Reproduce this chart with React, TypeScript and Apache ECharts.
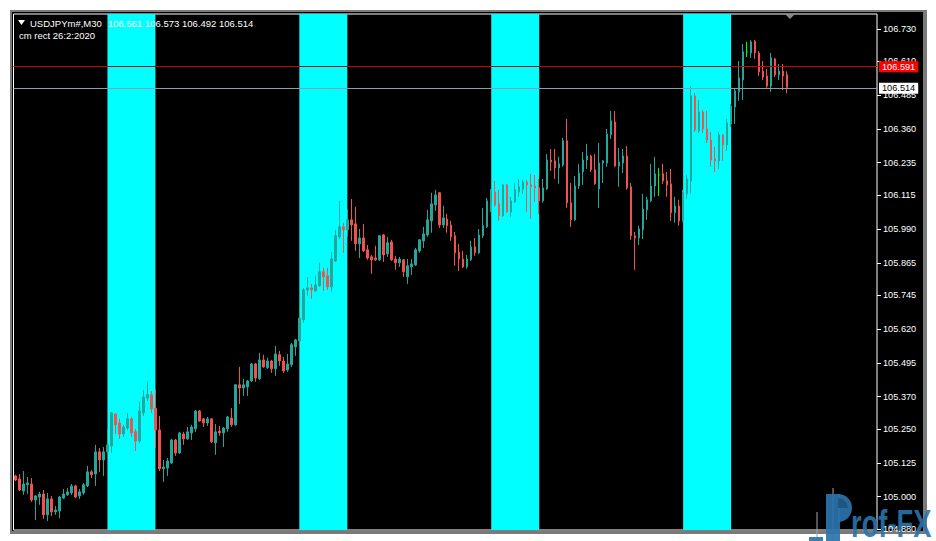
import React, { useEffect, useRef } from "react";
import * as echarts from "echarts";

const symbolName = "USDJPYm#,M30";
const indicatorText = "cm rect 26:2:2020";

const opens = [
  105.077, 105.066, 105.021, 105.044, 105.047, 104.988, 104.999, 105.010, 104.933, 104.992,
  104.944, 104.947, 104.995, 105.007, 105.014, 105.040, 105.003, 105.014, 105.040, 105.092,
  105.084, 105.166, 105.136, 105.166, 105.188, 105.306, 105.273, 105.232, 105.254, 105.288,
  105.240, 105.206, 105.310, 105.365, 105.377, 105.328, 105.247, 105.103, 105.106, 105.125,
  105.210, 105.162, 105.232, 105.214, 105.236, 105.251, 105.317, 105.288, 105.273, 105.288,
  105.199, 105.243, 105.236, 105.251, 105.291, 105.266, 105.414, 105.402, 105.406, 105.428,
  105.491, 105.436, 105.506, 105.477, 105.502, 105.473, 105.525, 105.502, 105.469, 105.488,
  105.554, 105.576, 105.654, 105.765, 105.772, 105.761, 105.780, 105.832, 105.817, 105.776,
  105.872, 105.961, 105.998, 105.987, 106.024, 106.009, 105.935, 105.957, 105.913, 105.887,
  105.883, 105.876, 105.968, 105.898, 105.942, 105.879, 105.865, 105.876, 105.813, 105.850,
  105.857, 105.909, 105.946, 105.968, 106.020, 106.079, 106.124, 106.005, 106.027, 106.005,
  105.965, 105.905, 105.879, 105.850, 105.876, 105.924, 105.902, 105.965, 105.998, 106.090,
  106.127, 106.083, 106.039, 106.153, 106.053, 106.090, 106.127, 106.138, 106.164, 106.153,
  106.149, 106.142, 106.094, 106.138, 106.245, 106.242, 106.216, 106.227, 106.316, 106.087,
  106.024, 106.149, 106.201, 106.245, 106.260, 106.209, 106.138, 106.234, 106.234, 106.338,
  106.386, 106.223, 106.234, 106.260, 106.146, 105.965, 105.957, 105.987, 106.061, 106.094,
  106.149, 106.190, 106.194, 106.168, 106.157, 106.050, 106.075, 106.020, 106.120, 106.168,
  106.482, 106.353, 106.423, 106.360, 106.319, 106.249, 106.242, 106.338, 106.301, 106.379,
  106.441, 106.497, 106.541, 106.645, 106.641, 106.685, 106.641, 106.574, 106.556, 106.519,
  106.619, 106.560, 106.574, 106.561,
];

const closes = [
  105.062, 105.025, 105.047, 105.051, 104.988, 105.003, 105.010, 104.933, 104.992, 104.944,
  104.951, 104.999, 105.010, 105.018, 105.040, 104.999, 105.018, 105.044, 105.092, 105.081,
  105.166, 105.136, 105.166, 105.192, 105.310, 105.266, 105.232, 105.258, 105.288, 105.236,
  105.206, 105.317, 105.369, 105.377, 105.325, 105.247, 105.103, 105.110, 105.132, 105.210,
  105.162, 105.236, 105.214, 105.240, 105.258, 105.317, 105.280, 105.273, 105.288, 105.203,
  105.240, 105.236, 105.254, 105.295, 105.266, 105.414, 105.402, 105.414, 105.428, 105.491,
  105.439, 105.506, 105.480, 105.502, 105.473, 105.528, 105.502, 105.465, 105.491, 105.562,
  105.580, 105.661, 105.765, 105.772, 105.765, 105.783, 105.832, 105.813, 105.776, 105.879,
  105.965, 105.998, 105.987, 106.024, 106.005, 105.935, 105.957, 105.909, 105.883, 105.876,
  105.876, 105.965, 105.894, 105.939, 105.876, 105.865, 105.879, 105.832, 105.854, 105.861,
  105.913, 105.950, 105.972, 106.024, 106.083, 106.116, 106.005, 106.031, 106.002, 105.961,
  105.902, 105.879, 105.850, 105.879, 105.924, 105.902, 105.968, 106.002, 106.094, 106.131,
  106.079, 106.039, 106.153, 106.053, 106.094, 106.135, 106.146, 106.164, 106.153, 106.146,
  106.142, 106.094, 106.142, 106.245, 106.238, 106.216, 106.231, 106.316, 106.087, 106.024,
  106.149, 106.197, 106.245, 106.260, 106.209, 106.157, 106.234, 106.242, 106.341, 106.390,
  106.223, 106.238, 106.260, 106.142, 105.965, 105.957, 105.990, 106.064, 106.098, 106.149,
  106.194, 106.190, 106.168, 106.153, 106.050, 106.075, 106.020, 106.124, 106.175, 106.482,
  106.356, 106.423, 106.360, 106.319, 106.245, 106.242, 106.338, 106.301, 106.382, 106.445,
  106.501, 106.549, 106.645, 106.645, 106.682, 106.641, 106.571, 106.552, 106.519, 106.623,
  106.560, 106.574, 106.556, 106.514,
];

const lows = [
  105.058, 105.021, 105.007, 105.010, 104.981, 104.914, 104.970, 104.918, 104.910, 104.929,
  104.933, 104.921, 104.992, 105.003, 105.007, 104.995, 104.992, 105.007, 105.036, 105.069,
  105.040, 105.092, 105.077, 105.162, 105.162, 105.232, 105.214, 105.221, 105.247, 105.221,
  105.169, 105.199, 105.299, 105.354, 105.310, 105.180, 105.095, 105.055, 105.077, 105.121,
  105.151, 105.158, 105.192, 105.210, 105.210, 105.240, 105.277, 105.258, 105.262, 105.199,
  105.155, 105.225, 105.184, 105.240, 105.258, 105.262, 105.343, 105.373, 105.373, 105.425,
  105.425, 105.432, 105.477, 105.473, 105.458, 105.447, 105.484, 105.458, 105.462, 105.480,
  105.521, 105.558, 105.643, 105.743, 105.732, 105.758, 105.776, 105.761, 105.765, 105.758,
  105.868, 105.953, 105.902, 105.961, 105.946, 105.909, 105.883, 105.905, 105.876, 105.824,
  105.872, 105.872, 105.868, 105.887, 105.872, 105.839, 105.850, 105.813, 105.787, 105.820,
  105.854, 105.902, 105.920, 105.961, 105.976, 106.057, 105.994, 105.994, 105.976, 105.946,
  105.854, 105.835, 105.846, 105.843, 105.872, 105.891, 105.898, 105.957, 105.994, 106.053,
  106.072, 106.020, 106.035, 106.050, 106.035, 106.087, 106.109, 106.120, 106.053, 106.027,
  106.090, 106.046, 106.087, 106.135, 106.205, 106.175, 106.157, 106.220, 106.068, 105.998,
  106.020, 106.138, 106.153, 106.212, 106.201, 106.153, 106.068, 106.160, 106.220, 106.323,
  106.220, 106.146, 106.197, 106.135, 105.950, 105.839, 105.931, 105.953, 106.024, 106.090,
  106.109, 106.112, 106.157, 106.109, 106.020, 106.013, 106.002, 106.017, 106.101, 106.120,
  106.349, 106.345, 106.345, 106.308, 106.220, 106.201, 106.212, 106.242, 106.279, 106.367,
  106.379, 106.464, 106.467, 106.626, 106.623, 106.619, 106.556, 106.541, 106.512, 106.497,
  106.552, 106.541, 106.504, 106.492,
];

const highs = [
  105.081, 105.084, 105.095, 105.073, 105.069, 105.007, 105.018, 105.025, 105.014, 105.003,
  104.966, 105.003, 105.029, 105.032, 105.047, 105.044, 105.029, 105.051, 105.114, 105.099,
  105.192, 105.180, 105.184, 105.251, 105.314, 105.310, 105.288, 105.266, 105.310, 105.295,
  105.251, 105.351, 105.395, 105.428, 105.391, 105.399, 105.299, 105.136, 105.143, 105.214,
  105.214, 105.240, 105.240, 105.258, 105.266, 105.321, 105.321, 105.291, 105.295, 105.291,
  105.269, 105.262, 105.258, 105.299, 105.328, 105.417, 105.480, 105.436, 105.432, 105.495,
  105.495, 105.532, 105.525, 105.514, 105.506, 105.558, 105.539, 105.517, 105.528, 105.569,
  105.584, 105.706, 105.772, 105.813, 105.787, 105.817, 105.865, 105.846, 105.846, 105.905,
  105.987, 106.094, 106.013, 106.064, 106.101, 106.072, 105.990, 106.009, 105.931, 105.894,
  105.928, 105.968, 105.972, 105.961, 105.950, 105.891, 105.887, 105.879, 105.879, 105.879,
  105.920, 105.953, 105.998, 106.061, 106.124, 106.135, 106.127, 106.076, 106.046, 106.020,
  105.979, 105.935, 105.909, 105.894, 105.946, 105.957, 105.990, 106.068, 106.105, 106.138,
  106.168, 106.135, 106.157, 106.157, 106.109, 106.160, 106.175, 106.172, 106.172, 106.194,
  106.190, 106.175, 106.175, 106.267, 106.286, 106.286, 106.257, 106.327, 106.397, 106.160,
  106.186, 106.231, 106.275, 106.305, 106.264, 106.267, 106.308, 106.245, 106.360, 106.427,
  106.427, 106.290, 106.286, 106.297, 106.160, 105.979, 106.002, 106.120, 106.109, 106.231,
  106.257, 106.216, 106.231, 106.201, 106.212, 106.109, 106.098, 106.135, 106.190, 106.519,
  106.493, 106.467, 106.430, 106.427, 106.349, 106.294, 106.349, 106.341, 106.397, 106.452,
  106.512, 106.611, 106.674, 106.682, 106.689, 106.689, 106.648, 106.611, 106.582, 106.641,
  106.623, 106.600, 106.600, 106.573,
];

const totalSlots = 216;
const bandRanges = [
  [23, 35],
  [71, 83],
  [119, 131],
  [167, 179],
];
const priceTicks = [
  104.88, 105.0, 105.125, 105.25, 105.37, 105.495, 105.62, 105.745,
  105.865, 105.99, 106.115, 106.235, 106.36, 106.485, 106.61, 106.73,
];
const askPrice = 106.591;
const bidPrice = 106.514;
const yMin = 104.877;
const yMax = 106.785;

const FONT = '"Liberation Sans", Arial, sans-serif';
const UP = "#26a69a";
const DOWN = "#ef5350";
const DOJI = "#00ff00";
const LOGO = "#2b73ab";

export default function App() {
  const ref = useRef<HTMLDivElement>(null);

  useEffect(() => {
    if (!ref.current) return;
    const chart = echarts.init(ref.current, null, { renderer: "svg" });
    const categories = Array.from({ length: totalSlots }, (_, i) => String(i));
    const candleData = opens.map((o, i) => {
      const item: any = { value: [o, closes[i], lows[i], highs[i]] };
      if (o === closes[i]) {
        item.itemStyle = { color: DOJI, color0: DOJI, borderColor: DOJI, borderColor0: DOJI };
      }
      return item;
    });
    const last = opens.length - 1;
    const headerValues = [opens[last], highs[last], lows[last], closes[last]]
      .map((v) => v.toFixed(3))
      .join(" ");

    chart.setOption({
      animation: false,
      backgroundColor: "transparent",
      grid: {
        left: 13.5,
        right: 59,
        top: 14,
        bottom: 11,
        show: true,
        borderColor: "#ffffff",
        borderWidth: 1,
        backgroundColor: "transparent",
      },
      xAxis: {
        type: "category",
        data: categories,
        boundaryGap: true,
        show: false,
      },
      yAxis: {
        type: "value",
        position: "right",
        min: yMin,
        max: yMax,
        splitLine: { show: false },
        axisLine: { show: false },
        axisTick: {
          show: true,
          customValues: priceTicks,
          length: 4,
          lineStyle: { color: "#ffffff", width: 1 },
        },
        axisLabel: {
          customValues: priceTicks,
          color: "#ffffff",
          fontSize: 9.2,
          fontFamily: FONT,
          margin: 6,
          formatter: (v: number) => v.toFixed(3),
        },
      },
      series: [
        {
          type: "line",
          data: [],
          z: 1,
          silent: true,
          markArea: {
            silent: true,
            itemStyle: { color: "#00ffff", opacity: 1 },
            data: bandRanges.map(([a, b]) => [
              { xAxis: categories[a] },
              { xAxis: categories[b] },
            ]),
          },
        },
        {
          type: "candlestick",
          z: 3,
          data: candleData,
          barWidth: 2,
          itemStyle: {
            color: UP,
            color0: DOWN,
            borderColor: UP,
            borderColor0: DOWN,
            borderWidth: 1,
          },
          markLine: {
            silent: true,
            symbol: ["none", "none"],
            animation: false,
            data: [
              {
                yAxis: askPrice,
                lineStyle: { color: "#c80000", width: 1, type: "solid" },
                label: {
                  show: true,
                  position: "end",
                  distance: 2,
                  formatter: () => askPrice.toFixed(3),
                  color: "#ffffff",
                  backgroundColor: "#ff0000",
                  padding: [1, 3, 0, 3],
                  lineHeight: 10,
                  fontSize: 9.2,
                  fontFamily: FONT,
                },
              },
              {
                yAxis: bidPrice,
                lineStyle: { color: "#8c9bb0", width: 1, type: "solid" },
                label: {
                  show: true,
                  position: "end",
                  distance: 2,
                  formatter: () => bidPrice.toFixed(3),
                  color: "#000000",
                  backgroundColor: "#ffffff",
                  padding: [1, 3, 0, 3],
                  lineHeight: 10,
                  fontSize: 9.2,
                  fontFamily: FONT,
                },
              },
            ],
          },
        },
      ],
      graphic: [
        {
          type: "polygon",
          z: 10,
          shape: { points: [[18, 20], [25, 20], [21.5, 25]] },
          style: { fill: "#ffffff" },
        },
        {
          type: "text",
          z: 10,
          x: 30,
          y: 23,
          style: {
            text: symbolName,
            fill: "#ffffff",
            font: `9.5px ${FONT}`,
            verticalAlign: "middle",
          },
        },
        {
          type: "text",
          z: 10,
          x: 108,
          y: 23,
          style: {
            text: headerValues,
            fill: "#ffffff",
            font: `9.5px ${FONT}`,
            verticalAlign: "middle",
          },
        },
        {
          type: "text",
          z: 10,
          x: 19,
          y: 35.5,
          style: {
            text: indicatorText,
            fill: "#ffffff",
            font: `9.5px ${FONT}`,
            verticalAlign: "middle",
          },
        },
        {
          type: "polygon",
          z: 10,
          shape: { points: [[785, 14], [795, 14], [790, 19]] },
          style: { fill: "#8a8a8a" },
        },
        {
          type: "group",
          z: 20,
          children: [
            { type: "line", shape: { x1: 817, y1: 512, x2: 817, y2: 541 }, style: { stroke: "#9aa6b0", lineWidth: 1 } },
            { type: "line", shape: { x1: 833, y1: 488, x2: 833, y2: 541 }, style: { stroke: "#9aa6b0", lineWidth: 1 } },
            { type: "rect", shape: { x: 809, y: 537, width: 14, height: 5 }, style: { fill: LOGO, opacity: 0.92 } },
            { type: "rect", shape: { x: 826, y: 494, width: 14, height: 47 }, style: { fill: LOGO, opacity: 0.92 } },
            {
              type: "sector",
              shape: { cx: 838, cy: 508, r: 14, r0: 0, startAngle: -Math.PI / 2, endAngle: Math.PI / 2, clockwise: true },
              style: { fill: LOGO, opacity: 0.92 },
            },
            {
              type: "sector",
              shape: { cx: 838, cy: 508, r: 10, r0: 0, startAngle: -Math.PI / 2, endAngle: 0, clockwise: true },
              style: { fill: "#1d5580", opacity: 0.92 },
            },
            {
              type: "text",
              x: 851,
              y: 543,
              scaleX: 0.72,
              style: {
                text: "rof-FX",
                fill: LOGO,
                opacity: 0.92,
                font: `bold 38px ${FONT}`,
                verticalAlign: "bottom",
              },
            },
          ],
        },
      ],
    });

    return () => chart.dispose();
  }, []);

  return (
    <div style={{ position: "fixed", left: 0, top: 0, width: 936, height: 541, background: "#ffffff", overflow: "hidden" }}>
      <div style={{ position: "absolute", left: 10, top: 10, width: 917, height: 524, background: "#7a7a7a" }} />
      <div style={{ position: "absolute", left: 12, top: 12, width: 911, height: 519, background: "#000000" }} />
      <div ref={ref} style={{ position: "absolute", left: 0, top: 0, width: 936, height: 541 }} />
    </div>
  );
}
